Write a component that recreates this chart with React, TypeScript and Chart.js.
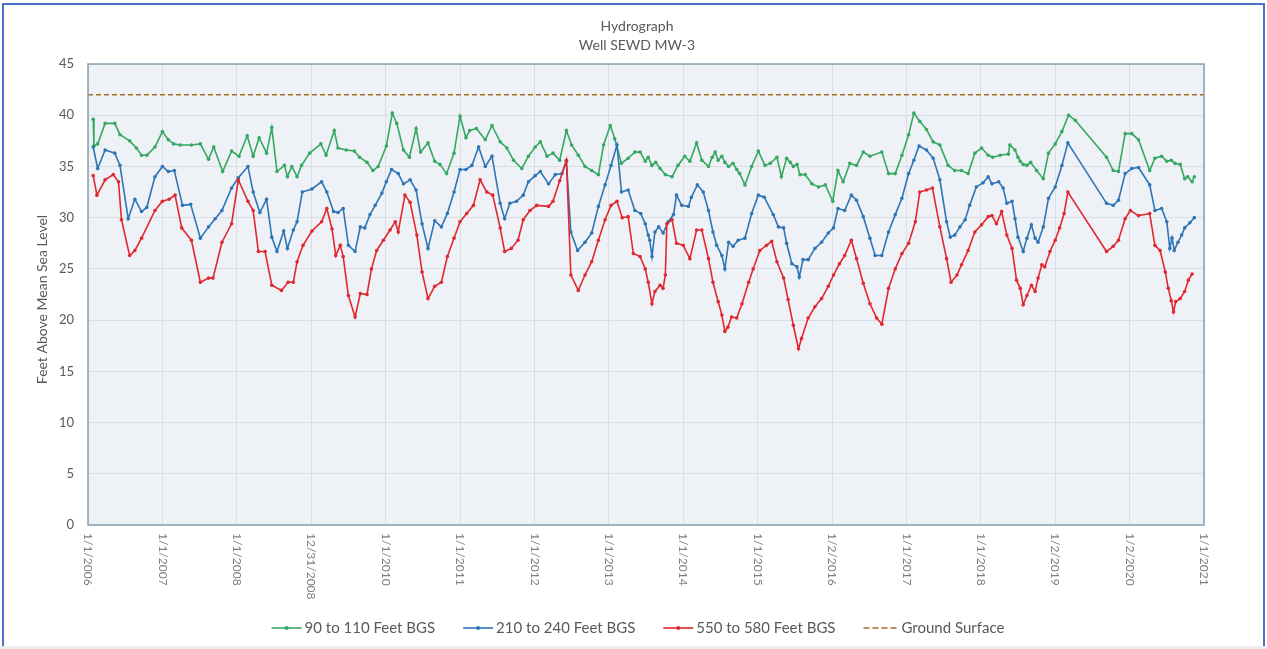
import React, { useEffect, useRef } from "react";
import { Chart, registerables } from "chart.js";

Chart.register(...registerables);

const titleLines = ["Hydrograph", "Well SEWD MW-3"];
const yAxisTitle = "Feet Above Mean Sea Level";
const tickYears = [2006, 2007, 2008, 2009, 2010, 2011, 2012, 2013, 2014, 2015, 2016, 2017, 2018, 2019, 2020, 2021];
const tickLabels = ["1/1/2006", "1/1/2007", "1/1/2008", "12/31/2008", "1/1/2010", "1/1/2011", "1/1/2012", "1/1/2013", "1/1/2014", "1/1/2015", "1/2/2016", "1/1/2017", "1/1/2018", "1/2/2019", "1/2/2020", "1/1/2021"];
const groundSurface = 42;

const shallow: [number, number][] = [
  [2006.07, 39.6], [2006.08, 37.0], [2006.13, 37.2], [2006.23, 39.2], [2006.36, 39.2], [2006.43, 38.1], [2006.56, 37.5], [2006.65, 36.8], [2006.72, 36.1], [2006.79, 36.1], [2006.9, 36.9],
  [2007.0, 38.4], [2007.08, 37.6], [2007.15, 37.2], [2007.24, 37.1], [2007.39, 37.1], [2007.51, 37.2], [2007.62, 35.7], [2007.69, 36.9], [2007.81, 34.5], [2007.93, 36.5],
  [2008.03, 36.0], [2008.14, 38.0], [2008.22, 36.0], [2008.3, 37.8], [2008.4, 36.3], [2008.47, 38.8], [2008.54, 34.5], [2008.64, 35.1], [2008.68, 34.0], [2008.74, 35.0], [2008.81, 34.0], [2008.87, 35.1], [2008.98, 36.3],
  [2009.13, 37.2], [2009.2, 36.1], [2009.31, 38.5], [2009.36, 36.8], [2009.47, 36.6], [2009.58, 36.5], [2009.65, 35.9], [2009.75, 35.4], [2009.83, 34.6], [2009.9, 35.0],
  [2010.01, 37.0], [2010.09, 40.2], [2010.15, 39.2], [2010.24, 36.6], [2010.32, 35.9], [2010.41, 38.7], [2010.47, 36.4], [2010.57, 37.3], [2010.66, 35.5], [2010.73, 35.2], [2010.82, 34.3], [2010.92, 36.3],
  [2011.0, 39.9], [2011.08, 37.8], [2011.13, 38.5], [2011.22, 38.7], [2011.34, 37.6], [2011.43, 39.0], [2011.54, 37.4], [2011.63, 36.8], [2011.72, 35.6], [2011.83, 34.8], [2011.92, 36.0],
  [2012.01, 36.9], [2012.08, 37.4], [2012.17, 36.0], [2012.25, 36.3], [2012.34, 35.6], [2012.43, 38.5], [2012.5, 37.1], [2012.59, 36.1], [2012.68, 35.0], [2012.77, 34.6], [2012.86, 34.2], [2012.93, 37.1],
  [2013.02, 39.0], [2013.08, 37.7], [2013.17, 35.3], [2013.26, 35.8], [2013.35, 36.4], [2013.42, 36.4], [2013.49, 35.5], [2013.53, 35.9], [2013.58, 35.1], [2013.63, 35.4], [2013.69, 34.8], [2013.76, 34.2], [2013.85, 34.0], [2013.93, 35.1],
  [2014.02, 36.0], [2014.09, 35.5], [2014.18, 37.3], [2014.25, 35.6], [2014.34, 35.0], [2014.39, 35.9], [2014.43, 36.4], [2014.47, 35.6], [2014.52, 36.0], [2014.56, 35.4], [2014.61, 35.0], [2014.67, 35.3], [2014.72, 34.7], [2014.76, 34.3], [2014.83, 33.2], [2014.92, 35.0],
  [2015.01, 36.5], [2015.1, 35.1], [2015.17, 35.3], [2015.26, 35.9], [2015.32, 34.0], [2015.39, 35.8], [2015.44, 35.4], [2015.48, 35.0], [2015.53, 35.2], [2015.57, 34.2], [2015.64, 34.2], [2015.73, 33.3], [2015.82, 33.0], [2015.91, 33.2],
  [2016.01, 31.6], [2016.08, 34.6], [2016.15, 33.5], [2016.24, 35.3], [2016.33, 35.1], [2016.42, 36.4], [2016.51, 36.0], [2016.67, 36.4], [2016.76, 34.3], [2016.85, 34.3], [2016.94, 36.1],
  [2017.03, 38.1], [2017.1, 40.2], [2017.18, 39.4], [2017.27, 38.6], [2017.36, 37.4], [2017.45, 37.1], [2017.56, 35.1], [2017.65, 34.6], [2017.74, 34.6], [2017.83, 34.3], [2017.92, 36.3],
  [2018.01, 36.8], [2018.1, 36.1], [2018.16, 35.9], [2018.26, 36.1], [2018.37, 36.2], [2018.39, 37.1], [2018.46, 36.6], [2018.5, 35.9], [2018.53, 35.5], [2018.57, 35.2], [2018.62, 35.1], [2018.67, 35.4], [2018.75, 34.6], [2018.84, 33.8], [2018.91, 36.3],
  [2019.0, 37.2], [2019.09, 38.4], [2019.18, 40.0], [2019.27, 39.5], [2019.69, 35.9], [2019.78, 34.6], [2019.85, 34.5], [2019.94, 38.2],
  [2020.03, 38.2], [2020.12, 37.6], [2020.27, 34.6], [2020.34, 35.8], [2020.43, 36.0], [2020.5, 35.5], [2020.56, 35.6], [2020.61, 35.3], [2020.68, 35.2], [2020.74, 33.8], [2020.78, 34.0], [2020.84, 33.5], [2020.87, 34.0],
];

const middle: [number, number][] = [
  [2006.07, 36.9], [2006.13, 34.8], [2006.23, 36.6], [2006.36, 36.3], [2006.43, 35.1], [2006.54, 29.9], [2006.63, 31.8], [2006.72, 30.6], [2006.79, 31.0], [2006.9, 34.0],
  [2007.0, 35.0], [2007.08, 34.5], [2007.16, 34.6], [2007.27, 31.2], [2007.38, 31.3], [2007.51, 28.0], [2007.62, 29.1], [2007.71, 29.9], [2007.8, 30.7], [2007.93, 32.9],
  [2008.02, 33.9], [2008.15, 35.0], [2008.22, 32.5], [2008.31, 30.5], [2008.4, 31.8], [2008.47, 28.1], [2008.54, 26.7], [2008.63, 28.7], [2008.68, 27.0], [2008.76, 28.8], [2008.81, 29.6], [2008.88, 32.5],
  [2009.01, 32.8], [2009.14, 33.5], [2009.21, 32.5], [2009.3, 30.6], [2009.36, 30.5], [2009.43, 30.9], [2009.5, 27.3], [2009.59, 26.7], [2009.66, 29.1], [2009.72, 29.0], [2009.79, 30.3], [2009.86, 31.2], [2009.95, 32.4],
  [2010.01, 33.5], [2010.08, 34.7], [2010.17, 34.3], [2010.24, 33.3], [2010.33, 33.7], [2010.41, 32.7], [2010.49, 29.4], [2010.57, 27.0], [2010.66, 29.7], [2010.75, 29.1], [2010.83, 30.4], [2010.92, 32.5],
  [2011.0, 34.7], [2011.08, 34.7], [2011.16, 35.1], [2011.25, 36.9], [2011.34, 35.0], [2011.43, 36.0], [2011.54, 31.4], [2011.6, 29.9], [2011.67, 31.4], [2011.76, 31.6], [2011.85, 32.2], [2011.92, 33.5],
  [2012.01, 34.1], [2012.08, 34.5], [2012.19, 33.3], [2012.28, 34.2], [2012.37, 34.3], [2012.43, 35.5], [2012.49, 28.6], [2012.58, 26.8], [2012.68, 27.6], [2012.77, 28.5], [2012.86, 31.1], [2012.95, 33.2],
  [2013.03, 35.1], [2013.11, 37.1], [2013.17, 32.5], [2013.26, 32.7], [2013.35, 30.7], [2013.43, 30.4], [2013.49, 29.4], [2013.53, 28.3], [2013.55, 27.8], [2013.58, 26.2], [2013.62, 28.6], [2013.67, 29.1], [2013.73, 28.5], [2013.8, 29.6], [2013.87, 30.3], [2013.91, 32.2], [2013.98, 31.2],
  [2014.07, 31.1], [2014.11, 32.0], [2014.19, 33.2], [2014.27, 32.5], [2014.34, 30.7], [2014.4, 28.6], [2014.45, 27.3], [2014.52, 26.3], [2014.56, 25.0], [2014.61, 27.6], [2014.67, 27.2], [2014.74, 27.8], [2014.83, 28.0], [2014.92, 30.4],
  [2015.01, 32.2], [2015.09, 32.0], [2015.21, 30.3], [2015.28, 29.1], [2015.35, 29.0], [2015.39, 27.5], [2015.46, 25.5], [2015.53, 25.2], [2015.56, 24.2], [2015.61, 25.9], [2015.68, 25.9], [2015.77, 27.0], [2015.86, 27.6], [2015.95, 28.5],
  [2016.02, 29.0], [2016.08, 30.9], [2016.17, 30.7], [2016.26, 32.2], [2016.33, 31.7], [2016.42, 30.1], [2016.51, 28.0], [2016.58, 26.3], [2016.67, 26.3], [2016.76, 28.6], [2016.85, 30.3], [2016.94, 31.9],
  [2017.03, 34.3], [2017.1, 35.6], [2017.17, 37.0], [2017.27, 36.6], [2017.36, 35.8], [2017.45, 33.7], [2017.54, 29.6], [2017.59, 28.1], [2017.65, 28.3], [2017.72, 29.1], [2017.79, 29.8], [2017.85, 31.2], [2017.94, 33.0],
  [2018.03, 33.4], [2018.1, 34.0], [2018.15, 33.3], [2018.24, 33.5], [2018.3, 32.9], [2018.35, 31.4], [2018.42, 31.6], [2018.46, 29.9], [2018.5, 28.1], [2018.57, 26.7], [2018.62, 28.0], [2018.68, 29.3], [2018.73, 28.0], [2018.77, 27.6], [2018.84, 29.1], [2018.91, 31.9],
  [2019.0, 33.0], [2019.09, 35.1], [2019.17, 37.3], [2019.69, 31.4], [2019.78, 31.2], [2019.85, 31.7], [2019.94, 34.3],
  [2020.03, 34.8], [2020.12, 34.9], [2020.27, 33.2], [2020.34, 30.7], [2020.43, 30.9], [2020.5, 29.6], [2020.54, 27.0], [2020.57, 28.0], [2020.6, 26.8], [2020.65, 27.6], [2020.7, 28.3], [2020.74, 29.0], [2020.81, 29.5], [2020.87, 30.0],
];

const deep: [number, number][] = [
  [2006.07, 34.1], [2006.12, 32.2], [2006.23, 33.7], [2006.34, 34.2], [2006.41, 33.5], [2006.45, 29.8], [2006.56, 26.3], [2006.63, 26.8], [2006.72, 28.0], [2006.9, 30.7],
  [2007.0, 31.6], [2007.09, 31.8], [2007.17, 32.2], [2007.26, 29.0], [2007.39, 27.8], [2007.51, 23.7], [2007.62, 24.1], [2007.68, 24.1], [2007.8, 27.6], [2007.93, 29.4],
  [2008.02, 33.7], [2008.15, 31.6], [2008.22, 30.7], [2008.29, 26.7], [2008.38, 26.7], [2008.47, 23.4], [2008.6, 22.9], [2008.69, 23.7], [2008.76, 23.7], [2008.81, 25.7], [2008.89, 27.3],
  [2009.01, 28.7], [2009.14, 29.6], [2009.21, 30.9], [2009.28, 28.9], [2009.33, 26.3], [2009.39, 27.3], [2009.43, 26.2], [2009.5, 22.4], [2009.59, 20.3], [2009.66, 22.6], [2009.75, 22.5], [2009.81, 25.0], [2009.88, 26.8], [2009.97, 27.8],
  [2010.06, 28.8], [2010.13, 29.6], [2010.17, 28.6], [2010.26, 32.2], [2010.33, 31.5], [2010.42, 28.3], [2010.49, 24.7], [2010.57, 22.1], [2010.66, 23.3], [2010.75, 23.7], [2010.83, 26.2], [2010.92, 28.0],
  [2011.0, 29.6], [2011.09, 30.4], [2011.18, 31.2], [2011.27, 33.7], [2011.36, 32.5], [2011.44, 32.2], [2011.54, 29.0], [2011.6, 26.7], [2011.69, 27.0], [2011.78, 27.8], [2011.85, 29.8], [2011.94, 30.7],
  [2012.03, 31.2], [2012.19, 31.1], [2012.25, 31.6], [2012.34, 33.6], [2012.43, 35.6], [2012.49, 24.4], [2012.59, 22.9], [2012.68, 24.4], [2012.77, 25.7], [2012.86, 27.8], [2012.95, 29.8],
  [2013.03, 31.2], [2013.11, 31.6], [2013.18, 30.0], [2013.26, 30.1], [2013.33, 26.5], [2013.42, 26.2], [2013.49, 25.0], [2013.53, 23.7], [2013.58, 21.6], [2013.62, 22.8], [2013.69, 23.4], [2013.73, 23.1], [2013.76, 24.4], [2013.78, 29.4], [2013.85, 29.8], [2013.91, 27.5],
  [2014.0, 27.3], [2014.09, 26.0], [2014.18, 28.8], [2014.25, 28.8], [2014.34, 26.0], [2014.4, 23.7], [2014.47, 21.8], [2014.52, 20.5], [2014.56, 18.9], [2014.6, 19.3], [2014.65, 20.3], [2014.72, 20.2], [2014.79, 21.6], [2014.88, 23.7], [2014.94, 25.0],
  [2015.03, 26.8], [2015.12, 27.3], [2015.19, 27.7], [2015.26, 25.7], [2015.35, 24.1], [2015.41, 22.0], [2015.48, 19.5], [2015.55, 17.2], [2015.59, 18.2], [2015.68, 20.2], [2015.77, 21.3], [2015.86, 22.1], [2015.95, 23.3],
  [2016.02, 24.4], [2016.1, 25.5], [2016.17, 26.3], [2016.26, 27.8], [2016.33, 26.0], [2016.42, 23.6], [2016.51, 21.6], [2016.6, 20.2], [2016.67, 19.6], [2016.76, 23.1], [2016.85, 25.0], [2016.94, 26.5],
  [2017.03, 27.5], [2017.12, 29.6], [2017.18, 32.5], [2017.27, 32.7], [2017.35, 32.9], [2017.45, 29.1], [2017.54, 26.0], [2017.6, 23.7], [2017.68, 24.4], [2017.74, 25.4], [2017.83, 26.8], [2017.92, 28.6],
  [2018.01, 29.3], [2018.1, 30.1], [2018.15, 30.2], [2018.21, 29.4], [2018.28, 30.6], [2018.35, 28.3], [2018.42, 27.0], [2018.48, 23.9], [2018.53, 23.1], [2018.57, 21.5], [2018.62, 22.4], [2018.68, 23.4], [2018.73, 22.8], [2018.77, 24.1], [2018.82, 25.4], [2018.86, 25.2], [2018.93, 26.7],
  [2019.0, 27.8], [2019.06, 29.0], [2019.12, 30.4], [2019.17, 32.5], [2019.69, 26.7], [2019.78, 27.2], [2019.85, 27.8], [2019.94, 29.9],
  [2020.01, 30.7], [2020.12, 30.2], [2020.27, 30.4], [2020.34, 27.3], [2020.41, 26.8], [2020.48, 24.7], [2020.52, 23.1], [2020.56, 21.9], [2020.59, 20.8], [2020.62, 21.8], [2020.68, 22.1], [2020.74, 22.8], [2020.79, 23.9], [2020.84, 24.5],
];

const seriesLabels = ["90 to 110 Feet BGS", "210 to 240 Feet BGS", "550 to 580 Feet BGS", "Ground Surface"];
const seriesColors = ["#35a862", "#2e75b6", "#e0282e", "#a07020"];

const FONT = "Lato, 'Open Sans', sans-serif";
const TEXT = "#595959";

const customPlugin = {
  id: "customDraw",
  beforeDraw(chart: any) {
    const { ctx, chartArea: a } = chart;
    ctx.save();
    ctx.fillStyle = "#ffffff";
    ctx.fillRect(0, 0, chart.width, chart.height);
    ctx.fillStyle = "#eef1f6";
    ctx.fillRect(a.left, a.top, a.right - a.left, a.bottom - a.top);
    ctx.restore();
  },
  afterDraw(chart: any) {
    const { ctx, chartArea: a } = chart;
    const xs = chart.scales.x;
    ctx.save();
    ctx.strokeStyle = "#86a3ad";
    ctx.lineWidth = 1.5;
    ctx.strokeRect(a.left, a.top, a.right - a.left, a.bottom - a.top);

    ctx.fillStyle = TEXT;
    ctx.font = `14px ${FONT}`;
    ctx.textAlign = "center";
    ctx.textBaseline = "middle";
    ctx.fillText(titleLines[0], 637, 26);
    ctx.fillText(titleLines[1], 637, 45);

    ctx.save();
    ctx.translate(42, (a.top + a.bottom) / 2 + 5);
    ctx.rotate(-Math.PI / 2);
    ctx.font = `14px ${FONT}`;
    ctx.fillText(yAxisTitle, 0, 0);
    ctx.restore();

    ctx.fillStyle = "#7f7f7f";
    ctx.font = `12px ${FONT}`;
    ctx.textAlign = "left";
    ctx.textBaseline = "middle";
    tickYears.forEach((yr, i) => {
      const x = xs.getPixelForValue(yr);
      ctx.save();
      ctx.translate(x, a.bottom + 8);
      ctx.rotate(Math.PI / 2);
      ctx.fillText(tickLabels[i], 0, 0);
      ctx.restore();
    });

    ctx.font = `15px ${FONT}`;
    ctx.textBaseline = "middle";
    ctx.textAlign = "left";
    const sample = 30;
    const gap = 28;
    const widths = seriesLabels.map((l, i) => (i === 3 ? 35 : sample) + 3 + ctx.measureText(l).width);
    const total = widths.reduce((s, w) => s + w, 0) + gap * (widths.length - 1);
    let x0 = 638 - total / 2;
    const ly = 628;
    seriesLabels.forEach((l, i) => {
      const sw = i === 3 ? 35 : sample;
      ctx.strokeStyle = seriesColors[i];
      ctx.lineWidth = 1.6;
      ctx.setLineDash(i === 3 ? [6, 3] : []);
      ctx.beginPath();
      ctx.moveTo(x0, ly);
      ctx.lineTo(x0 + sw, ly);
      ctx.stroke();
      ctx.setLineDash([]);
      if (i < 3) {
        ctx.fillStyle = seriesColors[i];
        ctx.beginPath();
        ctx.arc(x0 + sw / 2, ly, 2, 0, Math.PI * 2);
        ctx.fill();
      }
      ctx.fillStyle = TEXT;
      ctx.fillText(l, x0 + sw + 3, ly);
      x0 += widths[i] + gap;
    });
    ctx.restore();
  },
};

export default function App() {
  const ref = useRef<HTMLCanvasElement | null>(null);
  useEffect(() => {
    if (!ref.current) return;
    const mk = (pts: [number, number][]) => pts.map(([x, y]) => ({ x, y }));
    const lineDs = (i: number, pts: [number, number][]) => ({
      label: seriesLabels[i],
      data: mk(pts),
      borderColor: seriesColors[i],
      backgroundColor: seriesColors[i],
      borderWidth: 1.6,
      pointRadius: 1.8,
      pointHoverRadius: 1.8,
      pointBorderWidth: 0,
      tension: 0,
    });
    const chart = new Chart(ref.current, {
      type: "line",
      data: {
        datasets: [
          {
            label: seriesLabels[3],
            data: [
              { x: tickYears[0], y: groundSurface },
              { x: tickYears[tickYears.length - 1], y: groundSurface },
            ],
            borderColor: seriesColors[3],
            borderWidth: 1.5,
            borderDash: [5, 3],
            pointRadius: 0,
          },
          lineDs(2, deep),
          lineDs(1, middle),
          lineDs(0, shallow),
        ],
      },
      options: {
        responsive: false,
        animation: false,
        devicePixelRatio: 1,
        layout: { padding: { top: 64, right: 63, left: 0, bottom: 0 } },
        plugins: { legend: { display: false }, title: { display: false }, tooltip: { enabled: false } },
        scales: {
          x: {
            type: "linear",
            min: tickYears[0],
            max: tickYears[tickYears.length - 1],
            afterBuildTicks: (s: any) => {
              s.ticks = tickYears.map((v) => ({ value: v }));
            },
            afterFit: (s: any) => {
              s.height = 124;
            },
            ticks: { display: false },
            grid: { color: "#d9dde4", lineWidth: 1, drawTicks: false },
            border: { display: false },
          },
          y: {
            min: 0,
            max: 45,
            afterFit: (s: any) => {
              s.width = 88;
            },
            ticks: { stepSize: 5, color: TEXT, font: { family: FONT, size: 13 }, padding: 14 },
            grid: { color: "#d9dde4", lineWidth: 1, drawTicks: false },
            border: { display: false },
          },
        },
      },
      plugins: [customPlugin],
    } as any);
    return () => chart.destroy();
  }, []);
  return (
    <div style={{ position: "absolute", left: 0, top: 0, width: 1267, height: 649, overflow: "hidden", background: "#fff" }}>
      <canvas ref={ref} width={1267} height={649} style={{ position: "absolute", left: 0, top: 0 }} />
      <div
        style={{
          position: "absolute",
          left: 2,
          top: 3,
          width: 1263,
          height: 643,
          boxSizing: "border-box",
          borderStyle: "solid",
          borderColor: "#4a72c8",
          borderWidth: "2px 2px 0 2px",
          pointerEvents: "none",
        }}
      />
      <div style={{ position: "absolute", left: 0, top: 646, width: 1267, height: 3, background: "#ececec" }} />
    </div>
  );
}
